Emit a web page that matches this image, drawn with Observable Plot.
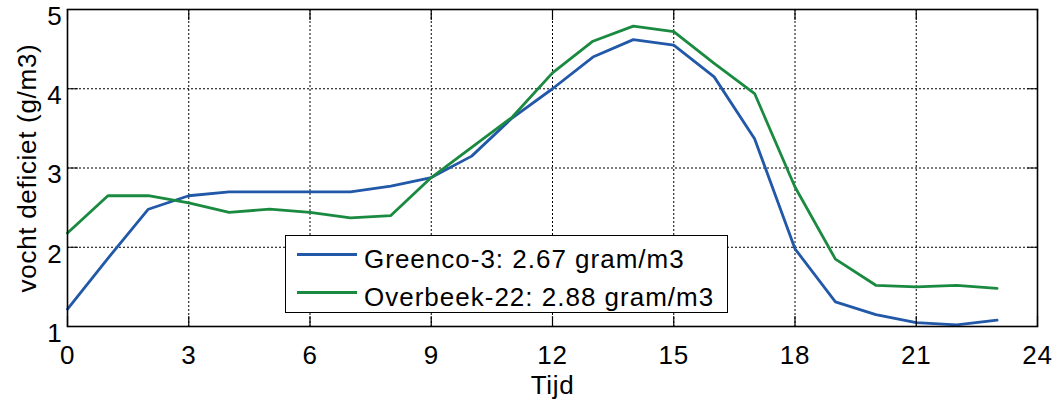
<!DOCTYPE html>
<html>
<head>
<meta charset="utf-8">
<script src="https://cdn.jsdelivr.net/npm/d3@7"></script>
<script src="https://cdn.jsdelivr.net/npm/@observablehq/plot@0.6"></script>
<style>
  html, body { margin: 0; padding: 0; background: #fff; }
  #wrap { position: relative; width: 1057px; height: 406px; font-family: "Liberation Sans", Arial, Helvetica, sans-serif; }
  #legend { position: absolute; left: 285px; top: 235px; width: 443px; height: 78px; border: 1.5px solid #000; background: #fff; box-sizing: border-box; }
  .lg-row { position: absolute; left: 0; height: 30px; width: 100%; }
  .lg-line { position: absolute; left: 11px; width: 60px; height: 3px; }
  .lg-text { position: absolute; left: 78px; font-size: 26px; letter-spacing: 1px; line-height: 30px; color: #000; white-space: nowrap; }
  #wrap svg text { letter-spacing: 0.7px; }
</style>
</head>
<body>
<div id="wrap"></div>
<script>
const hours = [0,1,2,3,4,5,6,7,8,9,10,11,12,13,14,15,16,17,18,19,20,21,22,23];
const greenco = [1.22,1.86,2.48,2.65,2.70,2.70,2.70,2.70,2.77,2.88,3.15,3.63,4.00,4.40,4.62,4.55,4.15,3.37,1.98,1.31,1.15,1.05,1.02,1.08];
const overbeek = [2.18,2.65,2.65,2.56,2.44,2.48,2.44,2.37,2.40,2.88,3.26,3.64,4.20,4.60,4.79,4.72,4.32,3.94,2.76,1.85,1.52,1.50,1.52,1.48];
const seriesNames = ["Greenco-3: 2.67 gram/m3", "Overbeek-22: 2.88 gram/m3"];
const seriesColors = ["#2158a8", "#1a8a40"];
const xTicks = [0,3,6,9,12,15,18,21,24];
const yTicks = [1,2,3,4,5];
const xLabel = "Tijd";
const yLabel = "vocht deficiet (g/m3)";

const rows = [];
hours.forEach((h, i) => {
  rows.push({hour: h, value: greenco[i], series: seriesNames[0]});
  rows.push({hour: h, value: overbeek[i], series: seriesNames[1]});
});

const tickShape = {draw(context, l) { context.moveTo(0, 0); context.lineTo(0, -l); }};
const tickOpts = {length: 10, anchor: "start", shape: tickShape, stroke: "#000", strokeWidth: 1.2};

const font = "Liberation Sans, Arial, Helvetica, sans-serif";
const chart = Plot.plot({
  width: 1057,
  height: 406,
  marginLeft: 67,
  marginRight: 20,
  marginTop: 9,
  marginBottom: 80,
  style: {fontFamily: font, fontSize: "26px", color: "#000", background: "#fff"},
  x: {domain: [0, 24]},
  y: {domain: [1, 5]},
  color: {domain: seriesNames, range: seriesColors},
  marks: [
    Plot.gridX(xTicks, {stroke: "#000", strokeOpacity: 1, strokeDasharray: "2,2", strokeWidth: 1}),
    Plot.gridY(yTicks, {stroke: "#000", strokeOpacity: 1, strokeDasharray: "2,2", strokeWidth: 1}),
    Plot.line(rows, {x: "hour", y: "value", z: "series", stroke: "series", strokeWidth: 2.8}),
    Plot.vector(xTicks, {x: d => d, frameAnchor: "bottom", rotate: 0, ...tickOpts}),
    Plot.vector(xTicks, {x: d => d, frameAnchor: "top", rotate: 180, ...tickOpts}),
    Plot.vector(yTicks, {y: d => d, frameAnchor: "left", rotate: 90, ...tickOpts}),
    Plot.vector(yTicks, {y: d => d, frameAnchor: "right", rotate: -90, ...tickOpts}),
    Plot.axisX(xTicks, {anchor: "bottom", tickSize: 0, tickPadding: 19, tickFormat: d => String(d), label: null, fontSize: 26, fill: "#000"}),
    Plot.axisY(yTicks, {anchor: "left", tickSize: 0, tickPadding: 5, dy: 7, tickFormat: d => String(d), label: null, fontSize: 26, fill: "#000"}),
    Plot.frame({stroke: "#000", strokeWidth: 1.6}),
    Plot.text([xLabel], {text: d => d, frameAnchor: "bottom", lineAnchor: "middle", dy: 59, fontSize: 26, fill: "#000"}),
    Plot.text([yLabel], {text: d => d, frameAnchor: "left", textAnchor: "middle", lineAnchor: "middle", dx: -40, rotate: -90, fontSize: 26, fill: "#000"})
  ]
});
const wrap = document.getElementById("wrap");
wrap.appendChild(chart);

const legend = document.createElement("div");
legend.id = "legend";
seriesNames.forEach((name, i) => {
  const row = document.createElement("div");
  row.className = "lg-row";
  row.style.top = (i === 0 ? 4 : 42) + "px";
  const line = document.createElement("div");
  line.className = "lg-line";
  line.style.background = seriesColors[i];
  line.style.top = "13px";
  const txt = document.createElement("div");
  txt.className = "lg-text";
  txt.style.top = "4px";
  txt.textContent = name;
  row.appendChild(line);
  row.appendChild(txt);
  legend.appendChild(row);
});
wrap.appendChild(legend);
</script>
</body>
</html>
